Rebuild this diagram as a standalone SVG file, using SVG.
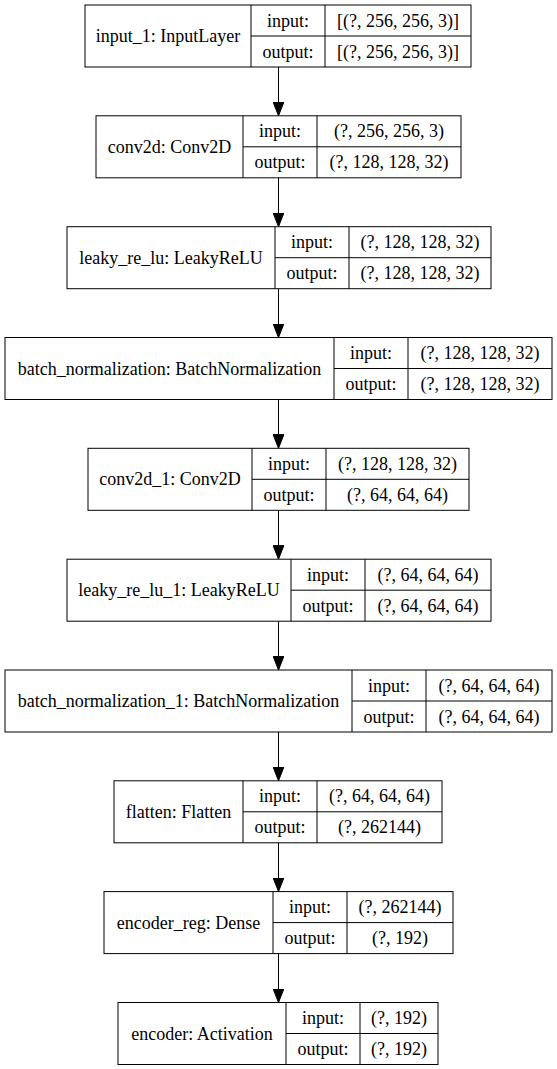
<svg xmlns="http://www.w3.org/2000/svg" width="557" height="1069" viewBox="0 0 557 1069">
<defs>
<marker id="ah" markerWidth="14" markerHeight="11" refX="14" refY="5.5" orient="auto" markerUnits="userSpaceOnUse">
<polygon points="0,0 14,5.5 0,11" fill="#000" stroke="#000" stroke-width="1"/>
</marker>
</defs>
<style>
rect{fill:#fff;stroke:#000;stroke-width:1}
line.d{stroke:#000;stroke-width:1}
text{font-family:"Liberation Serif","Times New Roman",serif;font-size:18px;fill:#000;text-anchor:middle}
.e{stroke:#000;stroke-width:1;fill:none}
</style>
<rect x="0" y="0" width="557" height="1069" style="fill:#fff;stroke:none"/>
<g id="edges">
<line class="e" x1="278.5" y1="67" x2="278.5" y2="115.8" marker-end="url(#ah)"/>
<line class="e" x1="278.5" y1="177.8" x2="278.5" y2="226.7" marker-end="url(#ah)"/>
<line class="e" x1="278.5" y1="288.7" x2="278.5" y2="337.5" marker-end="url(#ah)"/>
<line class="e" x1="278.5" y1="399.5" x2="278.5" y2="448.3" marker-end="url(#ah)"/>
<line class="e" x1="278.5" y1="510.3" x2="278.5" y2="559.2" marker-end="url(#ah)"/>
<line class="e" x1="278.5" y1="621.2" x2="278.5" y2="670" marker-end="url(#ah)"/>
<line class="e" x1="278.5" y1="732" x2="278.5" y2="780.8" marker-end="url(#ah)"/>
<line class="e" x1="278.5" y1="842.8" x2="278.5" y2="891.6" marker-end="url(#ah)"/>
<line class="e" x1="278.5" y1="953.6" x2="278.5" y2="1002.5" marker-end="url(#ah)"/>
</g>
<g id="input_1">
<rect x="85" y="5" width="386" height="62"/>
<line class="d" x1="251" y1="5" x2="251" y2="67"/><line class="d" x1="325" y1="5" x2="325" y2="67"/><line class="d" x1="251" y1="36" x2="471" y2="36"/>
<text x="168" y="42">input_1: InputLayer</text>
<text x="288" y="26.5">input:</text><text x="288" y="57.5">output:</text>
<text x="398" y="26.5">[(?, 256, 256, 3)]</text><text x="398" y="57.5">[(?, 256, 256, 3)]</text>
</g>
<g id="conv2d">
<rect x="96" y="115.8" width="365" height="62"/>
<line class="d" x1="243" y1="115.8" x2="243" y2="177.8"/><line class="d" x1="317" y1="115.8" x2="317" y2="177.8"/><line class="d" x1="243" y1="146.8" x2="461" y2="146.8"/>
<text x="169.5" y="152.8">conv2d: Conv2D</text>
<text x="280" y="137.3">input:</text><text x="280" y="168.3">output:</text>
<text x="389" y="137.3">(?, 256, 256, 3)</text><text x="389" y="168.3">(?, 128, 128, 32)</text>
</g>
<g id="leaky_re_lu">
<rect x="67" y="226.7" width="424" height="62"/>
<line class="d" x1="275" y1="226.7" x2="275" y2="288.7"/><line class="d" x1="349" y1="226.7" x2="349" y2="288.7"/><line class="d" x1="275" y1="257.7" x2="491" y2="257.7"/>
<text x="171" y="263.7">leaky_re_lu: LeakyReLU</text>
<text x="312" y="248.2">input:</text><text x="312" y="279.2">output:</text>
<text x="420" y="248.2">(?, 128, 128, 32)</text><text x="420" y="279.2">(?, 128, 128, 32)</text>
</g>
<g id="batch_normalization">
<rect x="5" y="337.5" width="547" height="62"/>
<line class="d" x1="334" y1="337.5" x2="334" y2="399.5"/><line class="d" x1="408" y1="337.5" x2="408" y2="399.5"/><line class="d" x1="334" y1="368.5" x2="552" y2="368.5"/>
<text x="169.5" y="374.5">batch_normalization: BatchNormalization</text>
<text x="371" y="359">input:</text><text x="371" y="390">output:</text>
<text x="480" y="359">(?, 128, 128, 32)</text><text x="480" y="390">(?, 128, 128, 32)</text>
</g>
<g id="conv2d_1">
<rect x="88" y="448.3" width="381" height="62"/>
<line class="d" x1="252" y1="448.3" x2="252" y2="510.3"/><line class="d" x1="326" y1="448.3" x2="326" y2="510.3"/><line class="d" x1="252" y1="479.3" x2="469" y2="479.3"/>
<text x="170" y="485.3">conv2d_1: Conv2D</text>
<text x="289" y="469.8">input:</text><text x="289" y="500.8">output:</text>
<text x="397.5" y="469.8">(?, 128, 128, 32)</text><text x="397.5" y="500.8">(?, 64, 64, 64)</text>
</g>
<g id="leaky_re_lu_1">
<rect x="67" y="559.2" width="424" height="62"/>
<line class="d" x1="291" y1="559.2" x2="291" y2="621.2"/><line class="d" x1="365" y1="559.2" x2="365" y2="621.2"/><line class="d" x1="291" y1="590.2" x2="491" y2="590.2"/>
<text x="179" y="596.2">leaky_re_lu_1: LeakyReLU</text>
<text x="328" y="580.7">input:</text><text x="328" y="611.7">output:</text>
<text x="428" y="580.7">(?, 64, 64, 64)</text><text x="428" y="611.7">(?, 64, 64, 64)</text>
</g>
<g id="batch_normalization_1">
<rect x="5" y="670" width="547" height="62"/>
<line class="d" x1="352" y1="670" x2="352" y2="732"/><line class="d" x1="426" y1="670" x2="426" y2="732"/><line class="d" x1="352" y1="701" x2="552" y2="701"/>
<text x="178.5" y="707">batch_normalization_1: BatchNormalization</text>
<text x="389" y="691.5">input:</text><text x="389" y="722.5">output:</text>
<text x="489" y="691.5">(?, 64, 64, 64)</text><text x="489" y="722.5">(?, 64, 64, 64)</text>
</g>
<g id="flatten">
<rect x="114" y="780.8" width="328" height="62"/>
<line class="d" x1="243" y1="780.8" x2="243" y2="842.8"/><line class="d" x1="317" y1="780.8" x2="317" y2="842.8"/><line class="d" x1="243" y1="811.8" x2="442" y2="811.8"/>
<text x="178.5" y="817.8">flatten: Flatten</text>
<text x="280" y="802.3">input:</text><text x="280" y="833.3">output:</text>
<text x="379.5" y="802.3">(?, 64, 64, 64)</text><text x="379.5" y="833.3">(?, 262144)</text>
</g>
<g id="encoder_reg">
<rect x="104" y="891.6" width="349" height="62"/>
<line class="d" x1="273" y1="891.6" x2="273" y2="953.6"/><line class="d" x1="347" y1="891.6" x2="347" y2="953.6"/><line class="d" x1="273" y1="922.6" x2="453" y2="922.6"/>
<text x="188.5" y="928.6">encoder_reg: Dense</text>
<text x="310" y="913.1">input:</text><text x="310" y="944.1">output:</text>
<text x="400" y="913.1">(?, 262144)</text><text x="400" y="944.1">(?, 192)</text>
</g>
<g id="encoder">
<rect x="118" y="1002.5" width="320" height="62"/>
<line class="d" x1="286" y1="1002.5" x2="286" y2="1064.5"/><line class="d" x1="360" y1="1002.5" x2="360" y2="1064.5"/><line class="d" x1="286" y1="1033.5" x2="438" y2="1033.5"/>
<text x="202" y="1039.5">encoder: Activation</text>
<text x="323" y="1024">input:</text><text x="323" y="1055">output:</text>
<text x="399" y="1024">(?, 192)</text><text x="399" y="1055">(?, 192)</text>
</g>
</svg>
